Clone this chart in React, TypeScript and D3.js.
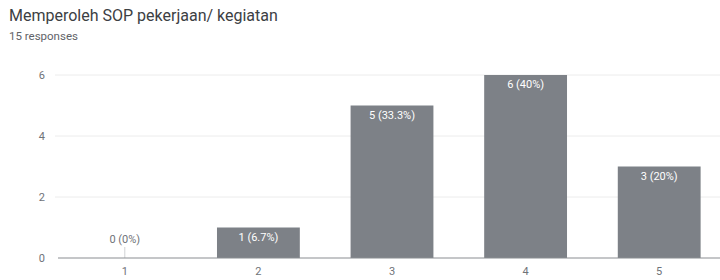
import { useEffect, useRef } from 'react';
import * as d3 from 'd3';

// ── Data ─────────────────────────────────────────────────────────────
const categories = ['1', '2', '3', '4', '5'];
const counts = [0, 1, 5, 6, 3];
const percentLabels = ['0%', '6.7%', '33.3%', '40%', '20%'];
const yTicks = [0, 2, 4, 6];

const TITLE = 'Memperoleh SOP pekerjaan/ kegiatan';
const SUBTITLE = '15 responses';

const W = 720, H = 280;
const margin = { top: 75, right: 0, bottom: 22, left: 58 };
const BAR = '#7d8187';
const FONT = 'Roboto, "Noto Sans", sans-serif';

export default function App() {
  const svgRef = useRef<SVGSVGElement | null>(null);

  useEffect(() => {
    if (!svgRef.current) return;
    const svg = d3.select(svgRef.current);
    svg.selectAll('*').remove();

    const innerW = W - margin.left - margin.right;
    const innerH = H - margin.top - margin.bottom;

    // title
    svg.append('text').attr('x', 9).attr('y', 21)
      .style('font-family', FONT).style('font-size', '16px').style('fill', '#3c4043')
      .text(TITLE);
    svg.append('text').attr('x', 9).attr('y', 40)
      .style('font-family', FONT).style('font-size', '11.5px').style('fill', '#5f6368')
      .text(SUBTITLE);

    const g = svg.append('g').attr('transform', `translate(${margin.left},${margin.top})`);

    const x = d3.scaleBand().domain(categories).range([0, innerW + 6]).paddingInner(0.38).paddingOuter(0.19);
    const y = d3.scaleLinear().domain([0, 6]).range([innerH, 0]);

    // grid
    g.selectAll('line.grid').data(yTicks.filter(t => t > 0)).enter().append('line')
      .attr('x1', -3).attr('x2', innerW)
      .attr('y1', d => y(d)).attr('y2', d => y(d))
      .style('stroke', '#ececec').attr('stroke-width', 1);

    // y tick labels
    g.selectAll('text.ytick').data(yTicks).enter().append('text')
      .attr('x', -13).attr('y', d => y(d) + 4)
      .style('font-family', FONT).style('font-size', '11px').style('fill', '#6f7378')
      .style('text-anchor', 'end')
      .text(d => d);

    // bars
    g.selectAll('rect.bar').data(counts).enter().append('rect')
      .attr('x', (_, i) => x(categories[i])!)
      .attr('y', d => y(d))
      .attr('width', x.bandwidth())
      .attr('height', d => innerH - y(d))
      .attr('fill', BAR);

    // marker for empty category
    g.selectAll('line.zero').data(counts.filter(c => c === 0)).enter().append('line')
      .attr('x1', (_, i) => x(categories[counts.indexOf(0)])! + x.bandwidth() / 2)
      .attr('x2', (_, i) => x(categories[counts.indexOf(0)])! + x.bandwidth() / 2)
      .attr('y1', innerH - 11).attr('y2', innerH)
      .style('stroke', '#d0d2d4').attr('stroke-width', 1);

    // baseline
    g.append('line').attr('x1', 0).attr('x2', innerW)
      .attr('y1', innerH).attr('y2', innerH)
      .style('stroke', '#8a8d91').attr('stroke-width', 1);

    // bar labels
    g.selectAll('text.lbl').data(counts).enter().append('text')
      .attr('x', (_, i) => x(categories[i])! + x.bandwidth() / 2)
      .attr('y', d => d > 0 ? y(d) + 13 : innerH - 15)
      .style('font-family', FONT).style('font-size', '11px')
      .style('fill', d => d > 0 ? '#ffffff' : '#6f7378')
      .style('text-anchor', 'middle')
      .text((d, i) => `${d} (${percentLabels[i]})`);

    // x tick labels
    g.selectAll('text.xtick').data(categories).enter().append('text')
      .attr('x', d => x(d)! + x.bandwidth() / 2)
      .attr('y', innerH + 17)
      .style('font-family', FONT).style('font-size', '11px').style('fill', '#6f7378')
      .style('text-anchor', 'middle')
      .text(d => d);
  }, []);

  return (
    <svg ref={svgRef} width={W} height={H}
      style={{ position: 'absolute', left: 0, top: 0, display: 'block', background: '#fff' }} />
  );
}
